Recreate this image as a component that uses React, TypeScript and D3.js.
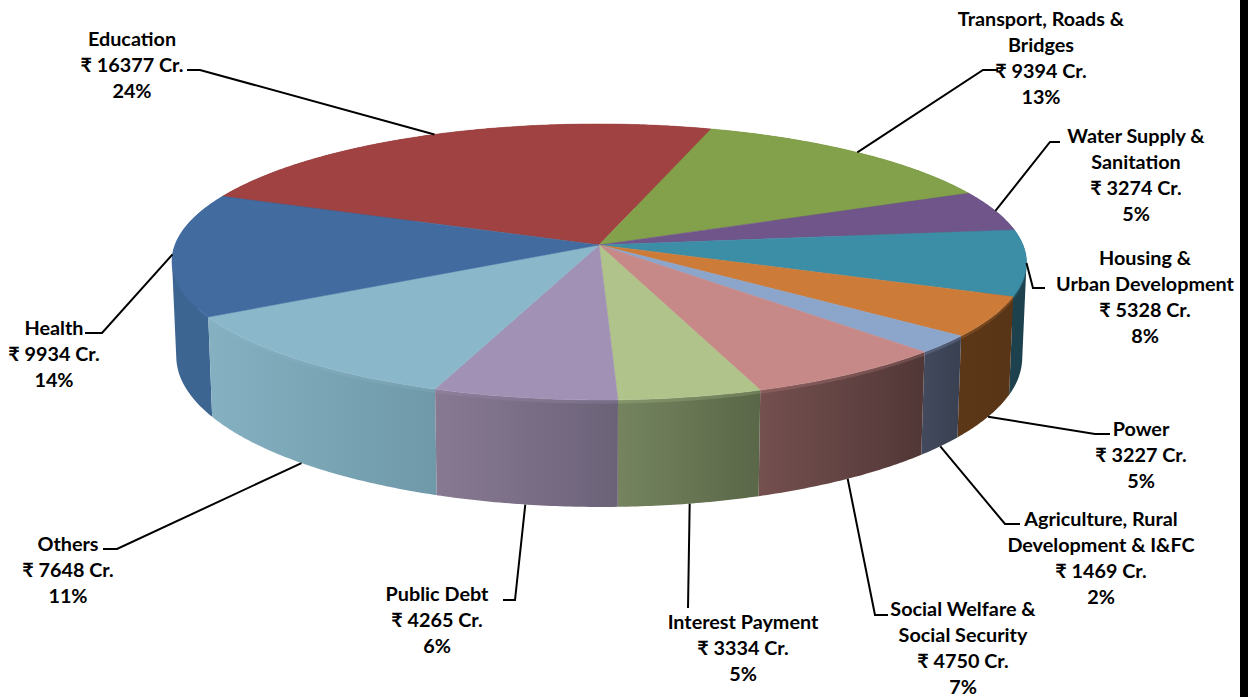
import React from "react";
import * as d3 from "d3";

// ---- data ----
const categories = ["Education","Transport","Water","Housing","Power","Agriculture","Social","Interest","PublicDebt","Others","Health"];
const labelLines = [
  ["Education"],
  ["Transport, Roads &", "Bridges"],
  ["Water Supply &", "Sanitation"],
  ["Housing &", "Urban Development"],
  ["Power"],
  ["Agriculture, Rural", "Development & I&FC"],
  ["Social Welfare &", "Social Security"],
  ["Interest Payment"],
  ["Public Debt"],
  ["Others"],
  ["Health"],
];
const values = [16377, 9394, 3274, 5328, 3227, 1469, 4750, 3334, 4265, 7648, 9934];
const percents = [24, 13, 5, 8, 5, 2, 7, 5, 6, 11, 14];
const topColors = ["#9f4241","#83a04a","#6f5589","#3c8da6","#cc7c38","#8ba5cb","#c68988","#afc38a","#a191b4","#8ab7ca","#426b9f"];
const wallFrom = ["#7a3231","#647a38","#553f69","#1f4552","#5c3718","#434a5e","#74504f","#75845f","#887993","#84b0c1","#3c6592"];
const wallTo   = ["#7a3231","#647a38","#553f69","#1d414d","#583516","#3a4152","#523737","#5a6748","#6b6278","#6f99a8","#3f6896"];

// ---- layout (not data) ----
const W = 1248, H = 697;
const FONT = 19.8, LINE = 26;
const labelCx = [132, 1041, 1136, 1145, 1141, 1101, 963, 743, 437, 68, 54];
const labelTop = [38, 18, 135, 257, 428, 518, 608, 621, 593, 543, 327];
const leaderElbow: number[][][] = [
  [[187,70],[200,70]],
  [[998,70],[983,70]],
  [[1060,142],[1050,142]],
  [[1045,288],[1033,288]],
  [[1110,434],[1095,434]],
  [[1020,524],[1005,524]],
  [[888,615],[875,615]],
  [[688,608]],
  [[503,600],[515,600]],
  [[103,549],[117,549]],
  [[85,333],[102,333]],
];
const leaderRing = ["top","top","top","top","bottom","bottom","bottom","bottom","bottom","bottom","top"];

const APEX_X = 599, APEX_Y = 245, RX = 424, RY = 135.9, PERSP = 0.123, SHEAR = 0.0145;
const BOTTOM_XK = 0.99, BOTTOM_YK = 1.086, BOTTOM_Y0 = 507, FRONT_Y = 400;

const xScale = d3.scaleLinear().domain([-1, 1]).range([APEX_X - RX, APEX_X + RX]);
const yScale = d3.scaleLinear().domain([-1, 1]).range([APEX_Y + RY, APEX_Y - RY]);

type P = [number, number];
function topPt(a: number): P {
  const u = Math.sin(a), v = Math.cos(a), d = 1 + PERSP * v;
  const y = yScale(v / d);
  return [xScale(u / d) + SHEAR * (y - APEX_Y), y];
}
function bottomPt(a: number): P {
  const [x, y] = topPt(a);
  return [APEX_X + BOTTOM_XK * (x - APEX_X), BOTTOM_Y0 + BOTTOM_YK * (y - FRONT_Y)];
}
function lerpPt(p: P, q: P, t: number): P {
  return [p[0] + (q[0] - p[0]) * t, p[1] + (q[1] - p[1]) * t];
}
const START = (-68 * Math.PI) / 180;
const pie = d3.pie<number>().sort(null).startAngle(START).endAngle(START + 2 * Math.PI);
const arcs = pie(values);
const path = d3.line<P>();

function samples(a0: number, a1: number): number[] {
  const n = Math.max(4, Math.ceil((a1 - a0) / 0.01));
  return d3.range(n + 1).map((i) => a0 + ((a1 - a0) * i) / n);
}
// A rim-to-rim band made of same-orientation quads, so overlaps at the silhouette stay filled.
function band(as: number[], upper: (a: number) => P, lower: (a: number) => P): string {
  let d = "";
  for (let k = 0; k + 1 < as.length; k++) {
    let quad: P[] = [upper(as[k]), upper(as[k + 1]), lower(as[k + 1]), lower(as[k])];
    if ((d3.polygonArea(quad) ?? 0) < 0) quad = quad.reverse();
    d += path(quad) + "Z";
  }
  return d;
}

export default function App() {
  const midCos = (i: number) => Math.cos((arcs[i].startAngle + arcs[i].endAngle) / 2);
  const order = arcs.map((_, i) => i).sort((p, q) => midCos(q) - midCos(p));
  return (
    <svg width={W} height={H} viewBox={`0 0 ${W} ${H}`} style={{ position: "absolute", left: 0, top: 0, display: "block", background: "#fff" }}>
      <defs>
        {arcs.map((arc, i) => (
          <linearGradient key={i} id={`wall${i}`} gradientUnits="userSpaceOnUse"
            x1={Math.min(bottomPt(arc.startAngle)[0], bottomPt(arc.endAngle)[0])} y1={0}
            x2={Math.max(bottomPt(arc.startAngle)[0], bottomPt(arc.endAngle)[0])} y2={0}>
            <stop offset="0" stopColor={wallFrom[i]} />
            <stop offset="1" stopColor={wallTo[i]} />
          </linearGradient>
        ))}
      </defs>
      {/* glyph bottoms of the cropped title */}
      <g fontFamily="Lato" fontWeight={700} fontSize={34} fill="#000" textAnchor="middle">
        <text x={543} y={-6}>y</text>
        <text x={625} y={-6}>g</text>
      </g>
      {order.map((i) => {
        const arc = arcs[i];
        const as = samples(arc.startAngle, arc.endAngle);
        return (
          <g key={categories[i]}>
            <path d={band(as, topPt, bottomPt)} fill={`url(#wall${i})`} />
            <path d={band(as, topPt, (a) => lerpPt(topPt(a), bottomPt(a), 0.035))} fill={topColors[i]} opacity={0.25} />
          </g>
        );
      })}
      {arcs.map((arc, i) => {
        const poly: P[] = [[APEX_X, APEX_Y], ...samples(arc.startAngle, arc.endAngle).map(topPt)];
        return <path key={i} d={path(poly) + "Z"} fill={topColors[i]} stroke={topColors[i]} strokeWidth={0.5} />;
      })}
      {arcs.map((arc, i) => {
        const mid = (arc.startAngle + arc.endAngle) / 2;
        const rim = leaderRing[i] === "top" ? topPt(mid) : bottomPt(mid);
        const pts = [...leaderElbow[i], rim] as P[];
        return <path key={i} d={path(pts) ?? ""} fill="none" stroke="#000" strokeWidth={2} />;
      })}
      <g fontFamily="Lato, 'Noto Sans', sans-serif" fontWeight={700} fontSize={FONT} fill="#000" textAnchor="middle">
        {values.map((v, i) => {
          const lines = [...labelLines[i], `₹ ${v} Cr.`, `${percents[i]}%`];
          return (
            <text key={i}>
              {lines.map((s, j) => (
                <tspan key={j} x={labelCx[i]} y={labelTop[i] + j * LINE + 7.5}>{s}</tspan>
              ))}
            </text>
          );
        })}
      </g>
      <rect x={1240} y={0} width={8} height={H} fill="#000000" />
    </svg>
  );
}
